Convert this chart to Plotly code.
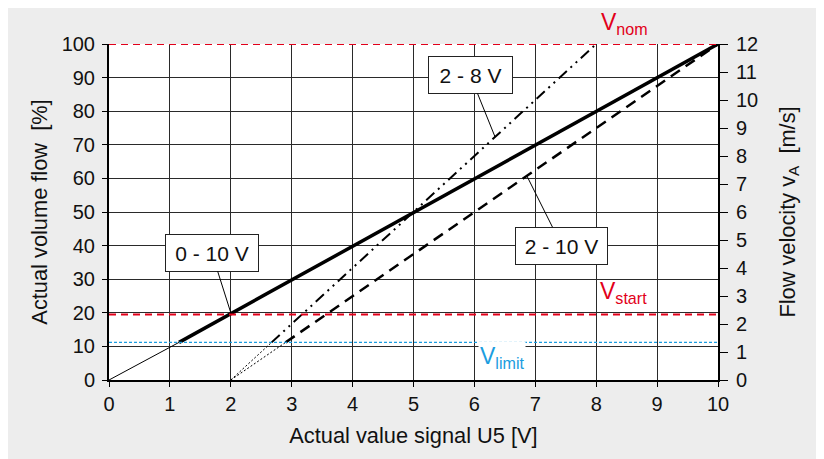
import plotly.graph_objects as go

# signal [V] and volume flow [%] for each characteristic curve
# (first segment below V_limit is drawn thin)
signal_0_10 = [0, 1.15, 10]
flow_0_10 = [0, 11.2, 100]
signal_2_10 = [2, 2.9, 10]
flow_2_10 = [0, 11.2, 100]
signal_2_8 = [2, 2.67, 8]
flow_2_8 = [0, 11.2, 100]

# reference flow levels [%]
v_nom = 100
v_start = 19.5
v_limit = 11.2

x_ticks = list(range(0, 11))
y_ticks = list(range(0, 101, 10))
y2_ticks = list(range(0, 13))

FONT = "Liberation Sans, Arial, sans-serif"
RED = "#e2001a"
BLUE = "#1b9de0"
GRID = "#2a2a2a"

fig = go.Figure()


def add_curve(xs, ys, dash, width):
    # thin dotted/solid start, then the main styled segment
    fig.add_trace(
        go.Scatter(
            x=xs[:2],
            y=ys[:2],
            mode="lines",
            line=dict(color="black", width=1, dash="solid" if dash == "solid" else "2px,2px"),
            showlegend=False,
            hoverinfo="skip",
        )
    )
    fig.add_trace(
        go.Scatter(
            x=xs[1:],
            y=ys[1:],
            mode="lines",
            line=dict(color="black", width=width, dash=dash),
            showlegend=False,
            hoverinfo="skip",
        )
    )


add_curve(signal_0_10, flow_0_10, "solid", 3.5)
add_curve(signal_2_10, flow_2_10, "11px,7px", 2.5)
add_curve(signal_2_8, flow_2_8, "11px,5px,2px,5px,2px,5px", 2)

# empty trace so the right axis is drawn
fig.add_trace(go.Scatter(x=[], y=[], yaxis="y2", showlegend=False))

fig.add_hline(y=v_nom, line=dict(color=RED, width=2, dash="7px,5px"))
fig.add_hline(y=v_start, line=dict(color=RED, width=2, dash="7px,5px"))
fig.add_hline(y=v_limit, line=dict(color=BLUE, width=1.3, dash="3px,2px"))

box = dict(
    showarrow=True,
    arrowhead=0,
    arrowwidth=1,
    arrowcolor="black",
    bgcolor="white",
    bordercolor="#222",
    borderwidth=1,
    borderpad=1,
    font=dict(family=FONT, size=21, color="#111"),
)
fig.add_annotation(x=2, y=20, ax=-19, ay=-60, text="0 - 10 V", width=90, height=34, **box)
fig.add_annotation(x=6.34, y=72.3, ax=-25, ay=-62, text="2 - 8 V", width=81, height=34, **box)
fig.add_annotation(x=6.86, y=60.8, ax=35, ay=70, text="2 - 10 V", width=89, height=34, **box)

fig.add_annotation(x=8.05, y=v_nom, yanchor="bottom", yshift=4, text="V<sub>nom</sub>",
                   font_color=RED, showarrow=False, xanchor="left",
                   font_family=FONT, font_size=23)
fig.add_annotation(x=8.03, y=v_start, yanchor="bottom", yshift=5, text="V<sub>start</sub>",
                   font_color=RED, showarrow=False, xanchor="left",
                   font_family=FONT, font_size=23)
fig.add_annotation(x=6.06, y=v_limit, yanchor="top", yshift=1, text="V<sub>limit</sub>",
                   font_color=BLUE, showarrow=False, xanchor="left", bgcolor="white",
                   font_family=FONT, font_size=23)

axis_common = dict(
    ticks="outside",
    tickcolor="black",
    showline=True,
    linecolor="black",
    linewidth=2,
    zeroline=False,
    tickfont=dict(family=FONT, size=20, color="#111"),
)
title_font = dict(family=FONT, size=21.8, color="#111")

fig.update_layout(
    width=824,
    height=459,
    margin=dict(l=101, r=114, t=36, b=87),
    paper_bgcolor="#ededed",
    plot_bgcolor="white",
    showlegend=False,
    font=dict(family=FONT, color="#111"),
    xaxis=dict(
        range=[0, 10],
        tickvals=x_ticks,
        ticklen=5,
        showgrid=True,
        gridcolor=GRID,
        gridwidth=1.2,
        title=dict(text="Actual value signal U5 [V]", font=title_font, standoff=14),
        **axis_common,
    ),
    yaxis=dict(
        range=[0, 100],
        tickvals=y_ticks,
        ticklen=5,
        ticklabelstandoff=3,
        showgrid=True,
        gridcolor=GRID,
        gridwidth=1.2,
        title=dict(text="Actual volume flow\u00a0 [%]", font=title_font, standoff=8),
        **axis_common,
    ),
    yaxis2=dict(
        range=[0, 12],
        tickvals=y2_ticks,
        ticklen=8,
        ticklabelstandoff=4,
        overlaying="y",
        side="right",
        anchor="x",
        showgrid=False,
        title=dict(text="Flow velocity v<sub>A</sub>\u00a0 [m/s]", font=title_font, standoff=22),
        **axis_common,
    ),
)

fig.write_html("out.html")
